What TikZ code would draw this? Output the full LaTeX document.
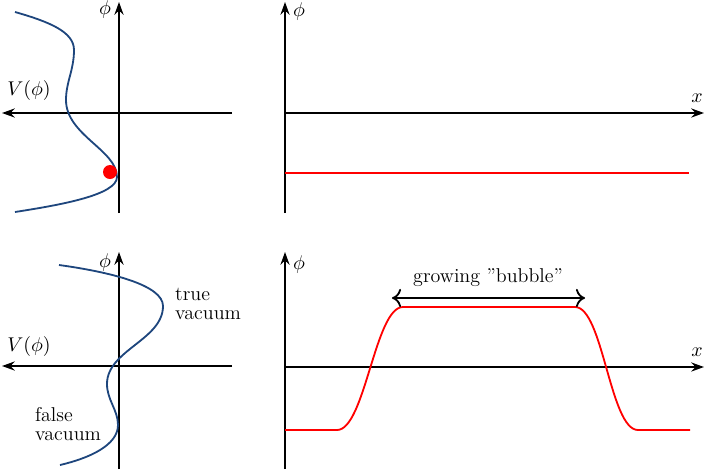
\documentclass[tikz,border=0pt]{standalone}
\usetikzlibrary{arrows.meta}
\begin{document}
\begin{tikzpicture}[x=0.55pt,y=-0.55pt,
  font=\fontsize{11}{13}\selectfont,
  axis/.style={line width=1pt,-{Stealth[length=7pt,width=5pt]}},
  pot/.style={line width=1pt,draw={rgb,255:red,30;green,70;blue,125}},
  field/.style={line width=1pt,red},
  lbl/.style={inner sep=1pt}]
\useasboundingbox (0,0) rectangle (706,469);
% ---------- top left ----------
\coordinate (tlV0) at (119,213);
\coordinate (tlV1) at (119,2);
\coordinate (tlH0) at (232,113);
\coordinate (tlH1) at (2,113);
\draw[axis] (tlV0) -- (tlV1);
\draw[axis] (tlH0) -- (tlH1);
\node[lbl] (tlphi) at (105,10) {$\phi$};
\node[lbl] (tlV) at (29,91) {$V(\phi)$};
\coordinate (p0) at (15,12);
\coordinate (p1) at (74,50);
\coordinate (p2) at (66,100);
\coordinate (p3) at (117,177);
\coordinate (p4) at (15,212);
\draw[pot] (p0) .. controls (50,22) and (74,32) .. (p1)
  .. controls (74,70) and (66,82) .. (p2)
  .. controls (66,135) and (117,150) .. (p3)
  .. controls (117,195) and (60,205) .. (p4);
\fill[red] (110,172) circle[radius=7];
% ---------- top right ----------
\coordinate (trV0) at (285,213);
\coordinate (trV1) at (285,2);
\coordinate (trH0) at (285,113);
\coordinate (trH1) at (704,113);
\draw[axis] (trV0) -- (trV1);
\draw[axis] (trH0) -- (trH1);
\node[lbl] (trphi) at (299,12) {$\phi$};
\node[lbl] (trx) at (697,98) {$x$};
\coordinate (trR0) at (285,173);
\coordinate (trR1) at (689,173);
\draw[field] (trR0) -- (trR1);
% ---------- bottom left ----------
\coordinate (blV0) at (119,469);
\coordinate (blV1) at (119,252);
\coordinate (blH0) at (232,366);
\coordinate (blH1) at (2,366);
\draw[axis] (blV0) -- (blV1);
\draw[axis] (blH0) -- (blH1);
\node[lbl] (blphi) at (105,263) {$\phi$};
\node[lbl] (blV) at (29,347) {$V(\phi)$};
\coordinate (q0) at (59,265);
\coordinate (q1) at (163,306);
\coordinate (q2) at (107,384);
\coordinate (q3) at (118,425);
\coordinate (q4) at (60,465);
\draw[pot] (q0) .. controls (110,272) and (163,285) .. (q1)
  .. controls (163,340) and (107,350) .. (q2)
  .. controls (107,400) and (118,410) .. (q3)
  .. controls (118,445) and (90,458) .. (q4);
\node[lbl,anchor=west,align=left] (tv) at (173,304) {true\\[-3pt]vacuum};
\node[lbl,anchor=west,align=left] (fv) at (33,424) {false\\[-3pt]vacuum};
% ---------- bottom right ----------
\coordinate (brV0) at (285,469);
\coordinate (brV1) at (285,252);
\coordinate (brH0) at (285,367);
\coordinate (brH1) at (704,367);
\draw[axis] (brV0) -- (brV1);
\draw[axis] (brH0) -- (brH1);
\node[lbl] (brphi) at (299,265) {$\phi$};
\node[lbl] (brx) at (697,352) {$x$};
\coordinate (b0) at (285,430);
\coordinate (b1) at (337,430);
\coordinate (b2) at (403,307);
\coordinate (b3) at (575,307);
\coordinate (b4) at (638,430);
\coordinate (b5) at (690,430);
\draw[field] (b0) -- (b1) .. controls (365,430) and (375,307) .. (b2) -- (b3) .. controls (603,307) and (610,430) .. (b4) -- (b5);
\coordinate (a0) at (392,298);
\coordinate (a1) at (585,298);
\draw[line width=1pt,{To[length=5pt,width=10pt]}-{To[length=5pt,width=10pt]}] (a0) -- (a1);
\node[lbl] (grow) at (488,278) {growing "bubble"};
\end{tikzpicture}
\end{document}
